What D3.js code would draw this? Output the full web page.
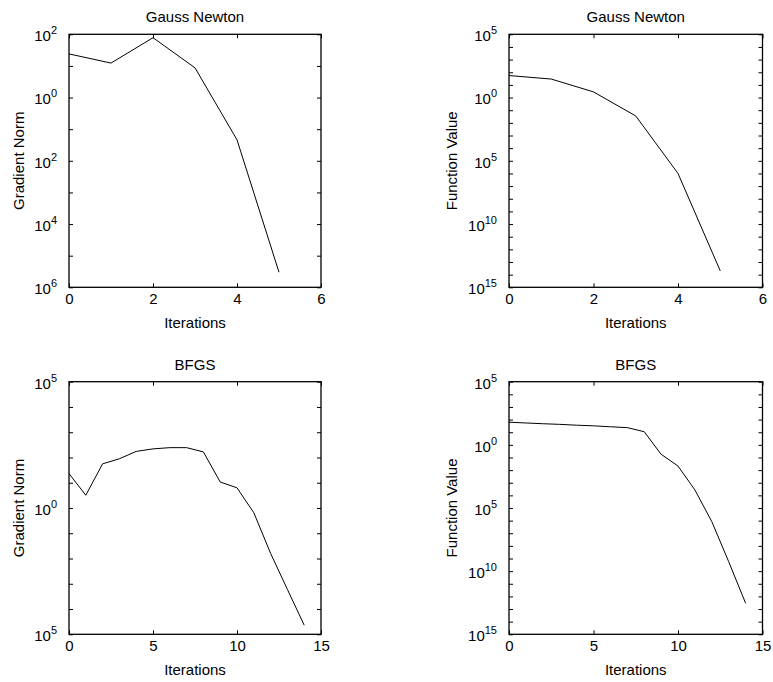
<!DOCTYPE html>
<html>
<head>
<meta charset="utf-8">
<script src="https://cdn.jsdelivr.net/npm/d3@7"></script>
<style>
  html, body { margin: 0; padding: 0; background: #fff; }
  svg { display: block; }
  text { font-family: "Liberation Sans", Arial, Helvetica, sans-serif; fill: #000; }
</style>
</head>
<body>
<svg id="chart" width="773" height="682"></svg>
<script>
// ---------- data ----------
const gnIterations = [0, 1, 2, 3, 4, 5];
const gnGradientNorm = [24, 12.3, 78, 8.7, 0.046, 3.0e-6];
const gnFunctionValue = [55, 29, 2.8, 0.035, 1.0e-6, 2.0e-14];

const bfgsIterations = [0, 1, 2, 3, 4, 5, 6, 7, 8, 9, 10, 11, 12, 13, 14];
const bfgsGradientNorm = [23, 3.2, 56, 89, 174, 219, 245, 245, 166, 10.7, 6.3, 0.65, 0.016, 6.0e-4, 2.3e-5];
const bfgsFunctionValue = [62, 54, 47, 42, 36, 32, 27, 23, 11, 0.18, 0.021, 2.7e-4, 8.3e-7, 5.6e-10, 2.9e-13];

const titles = ["Gauss Newton", "Gauss Newton", "BFGS", "BFGS"];
const yLabels = ["Gradient Norm", "Function Value", "Gradient Norm", "Function Value"];
const xLabel = "Iterations";

const gnXTicks = [0, 2, 4, 6];
const bfgsXTicks = [0, 5, 10, 15];

// y tick values and the exponent text as printed in the figure
const gnGradYTicks = [1e2, 1e0, 1e-2, 1e-4, 1e-6];
const gnGradYExp = ["2", "0", "2", "4", "6"];
const funYTicks = [1e5, 1e0, 1e-5, 1e-10, 1e-15];
const funYExp = ["5", "0", "5", "10", "15"];
const bfgsGradYTicks = [1e5, 1e0, 1e-5];
const bfgsGradYExp = ["5", "0", "5"];

// ---------- drawing ----------
const svg = d3.select("#chart");
const FS = 15;

function decades(lo, hi) {
  const out = [];
  for (let e = Math.round(Math.log10(lo)); e <= Math.round(Math.log10(hi)); e++) out.push(Math.pow(10, e));
  return out;
}

function panel(cfg) {
  const { L, R, T, B } = cfg;
  const g = svg.append("g");
  const x = d3.scaleLinear().domain(cfg.xDomain).range([L, R]);
  const y = d3.scaleLog().domain(cfg.yDomain).range([B, T]);

  const styleAxis = sel => {
    sel.attr("font-family", null).attr("font-size", null);
    sel.select(".domain").remove();
    sel.selectAll(".tick line").attr("stroke", "#000").attr("stroke-width", 1);
    sel.selectAll(".tick text").attr("font-size", FS).attr("fill", "#000");
  };

  // minor/major y ticks (every decade), both sides, inward
  const dec = decades(cfg.yDomain[0], cfg.yDomain[1]);
  g.append("g").attr("transform", `translate(${L},0)`)
    .call(d3.axisLeft(y).tickValues(dec).tickSize(-4).tickFormat(() => ""))
    .call(styleAxis);
  g.append("g").attr("transform", `translate(${R},0)`)
    .call(d3.axisRight(y).tickValues(dec).tickSize(-4).tickFormat(() => ""))
    .call(styleAxis);

  // y tick labels with superscript exponents
  g.append("g").attr("transform", `translate(${L},0)`)
    .call(d3.axisLeft(y).tickValues(cfg.yTicks).tickSize(0).tickPadding(12).tickFormat(() => ""))
    .call(styleAxis)
    .selectAll(".tick text")
    .attr("dy", "0.42em")
    .each(function (d, i) {
      const t = d3.select(this);
      t.text(null);
      t.append("tspan").text("10");
      t.append("tspan").attr("dy", -7).attr("font-size", 11).text(cfg.yExp[i]);
    });

  // x ticks bottom (with labels) and top, inward
  g.append("g").attr("transform", `translate(0,${B})`)
    .call(d3.axisBottom(x).tickValues(cfg.xTicks).tickSize(-4).tickPadding(6.5).tickFormat(d3.format("d")))
    .call(styleAxis);
  g.append("g").attr("transform", `translate(0,${T})`)
    .call(d3.axisTop(x).tickValues(cfg.xTicks).tickSize(-4).tickFormat(() => ""))
    .call(styleAxis);

  // box
  g.append("rect").attr("x", L).attr("y", T).attr("width", R - L).attr("height", B - T)
    .attr("fill", "none").attr("stroke", "#000").attr("stroke-width", 1.3);

  // data line
  const line = d3.line().x((d, i) => x(cfg.xs[i])).y(d => y(d));
  g.append("path").datum(cfg.ys).attr("d", line)
    .attr("fill", "none").attr("stroke", "#000").attr("stroke-width", 1);

  // title
  g.append("text").attr("x", (L + R) / 2).attr("y", T - 12)
    .attr("text-anchor", "middle").attr("font-size", FS).text(cfg.title);
  // x label
  g.append("text").attr("x", (L + R) / 2).attr("y", B + 41)
    .attr("text-anchor", "middle").attr("font-size", FS).text(xLabel);
  // y label
  g.append("text")
    .attr("transform", `translate(${L - cfg.yLabOff},${(T + B) / 2}) rotate(-90)`)
    .attr("text-anchor", "middle").attr("font-size", FS).text(cfg.ylabel);
}

const leftL = 69, leftR = 321, rightL = 509, rightR = 762.5;
const topT = 34.3, topB = 287.3, botT = 381.7, botB = 634.3;

panel({ L: leftL, R: leftR, T: topT, B: topB, xDomain: [0, 6], yDomain: [1e-6, 1e2],
  xs: gnIterations, ys: gnGradientNorm, xTicks: gnXTicks, yTicks: gnGradYTicks, yExp: gnGradYExp,
  title: titles[0], ylabel: yLabels[0], yLabOff: 45.5 });
panel({ L: rightL, R: rightR, T: topT, B: topB, xDomain: [0, 6], yDomain: [1e-15, 1e5],
  xs: gnIterations, ys: gnFunctionValue, xTicks: gnXTicks, yTicks: funYTicks, yExp: funYExp,
  title: titles[1], ylabel: yLabels[1], yLabOff: 52 });
panel({ L: leftL, R: leftR, T: botT, B: botB, xDomain: [0, 15], yDomain: [1e-5, 1e5],
  xs: bfgsIterations, ys: bfgsGradientNorm, xTicks: bfgsXTicks, yTicks: bfgsGradYTicks, yExp: bfgsGradYExp,
  title: titles[2], ylabel: yLabels[2], yLabOff: 45.5 });
panel({ L: rightL, R: rightR, T: botT, B: botB, xDomain: [0, 15], yDomain: [1e-15, 1e5],
  xs: bfgsIterations, ys: bfgsFunctionValue, xTicks: bfgsXTicks, yTicks: funYTicks, yExp: funYExp,
  title: titles[3], ylabel: yLabels[3], yLabOff: 52 });
</script>
</body>
</html>
